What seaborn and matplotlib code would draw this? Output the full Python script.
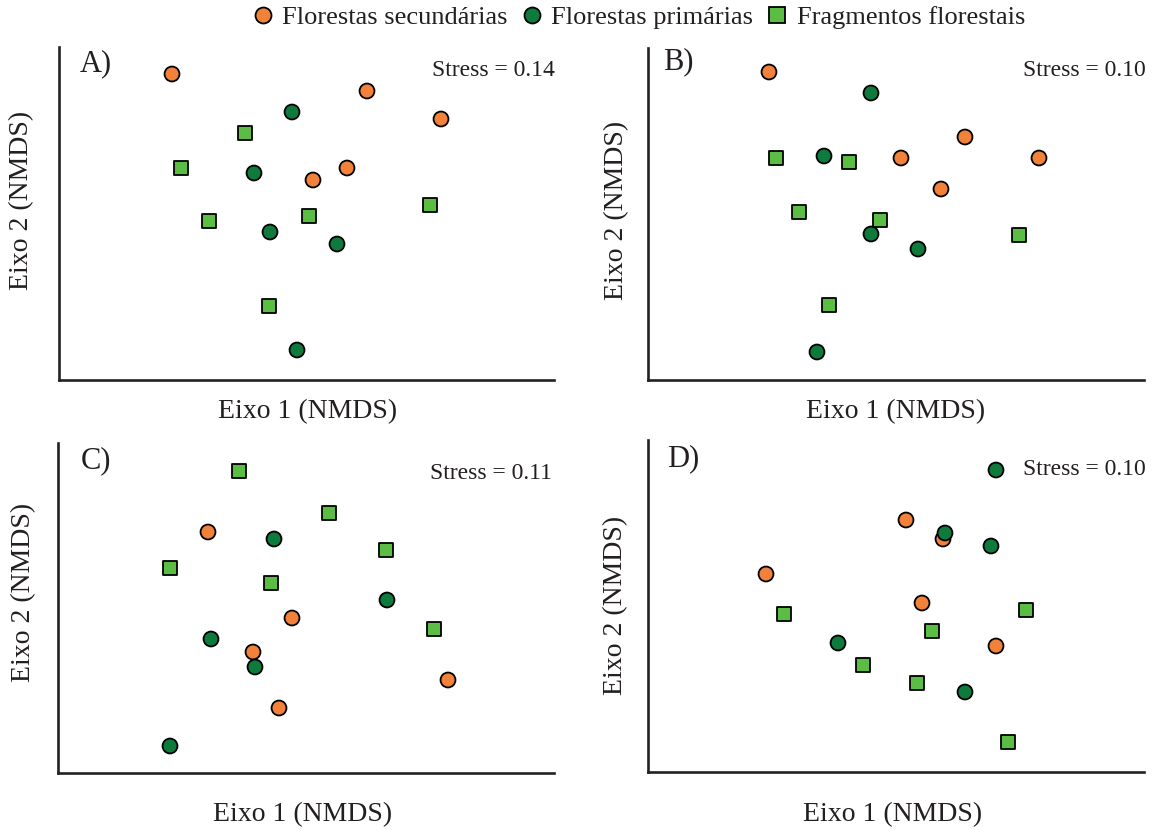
"""
Figura NMDS em quatro painéis (A-D): florestas secundárias, primárias e fragmentos.
"""

import matplotlib.pyplot as plt
from matplotlib.lines import Line2D
import pandas as pd
import seaborn as sns

# ==========================================
# DADOS (escores NMDS, unidades arbitrárias)
# ==========================================
GROUPS = ["Florestas secundárias", "Florestas primárias", "Fragmentos florestais"]
PANELS = ["A)", "B)", "C)", "D)"]
STRESS = [0.14, 0.10, 0.11, 0.10]

# painel A
a_sec_x = [113, 308, 382, 254, 288]
a_sec_y = [306, 289, 261, 200, 212]
a_pri_x = [233, 195, 211, 278, 238]
a_pri_y = [268, 207, 148, 136, 30]
a_fra_x = [186, 122, 150, 250, 210, 371]
a_fra_y = [247, 212, 159, 164, 74, 175]

# painel B
b_sec_x = [121, 317, 253, 391, 293]
b_sec_y = [308, 243, 222, 222, 191]
b_pri_x = [223, 176, 223, 270, 169]
b_pri_y = [287, 224, 146, 131, 28]
b_fra_x = [128, 201, 151, 232, 371, 181]
b_fra_y = [222, 218, 168, 160, 145, 75]

# painel C
c_sec_x = [150, 234, 195, 390, 221]
c_sec_y = [241, 155, 121, 93, 65]
c_pri_x = [216, 329, 153, 197, 112]
c_pri_y = [234, 173, 134, 106, 27]
c_fra_x = [181, 271, 328, 112, 213, 376]
c_fra_y = [302, 260, 223, 205, 190, 144]

# painel D
d_sec_x = [258, 295, 118, 274, 348]
d_sec_y = [252, 233, 198, 169, 126]
d_pri_x = [297, 343, 190, 317, 348]
d_pri_y = [239, 226, 129, 80, 302]
d_fra_x = [136, 284, 378, 215, 269, 360]
d_fra_y = [158, 141, 162, 107, 89, 30]

PANEL_DATA = [
    [(a_sec_x, a_sec_y), (a_pri_x, a_pri_y), (a_fra_x, a_fra_y)],
    [(b_sec_x, b_sec_y), (b_pri_x, b_pri_y), (b_fra_x, b_fra_y)],
    [(c_sec_x, c_sec_y), (c_pri_x, c_pri_y), (c_fra_x, c_fra_y)],
    [(d_sec_x, d_sec_y), (d_pri_x, d_pri_y), (d_fra_x, d_fra_y)],
]

# ==========================================
# ESTILO
# ==========================================
W, H = 1154, 830
PALETTE = {GROUPS[0]: "#F2823A", GROUPS[1]: "#0E7A3C", GROUPS[2]: "#5CBD45"}
MARKERS = {GROUPS[0]: "o", GROUPS[1]: "o", GROUPS[2]: "s"}
TEXT_COLOR = "#231F20"

# caixas dos eixos em pixels: esquerda, direita, topo, base
BOXES = [(59, 554, 47, 380), (648, 1144, 48, 380),
         (58, 554, 443, 773), (648, 1144, 440, 772)]
LETTER_POS = [(80, 64), (663, 62), (81, 461), (667, 459)]
STRESS_POS = [(555, 71), (1146, 70), (552, 473), (1146, 469)]
XLAB_POS = [(308, 412), (896, 412), (303, 815), (893, 815)]
YLAB_POS = [(22, 200), (617, 210), (24, 592), (616, 605)]


def fx(x):
    return x / W


def fy(y):
    return 1 - y / H


def main():
    sns.set_style("white")
    plt.rcParams["font.family"] = ["Liberation Serif", "DejaVu Serif"]

    fig = plt.figure(figsize=(W / 100, H / 100), dpi=100)

    for i, (left, right, top, bottom) in enumerate(BOXES):
        ax = fig.add_axes([fx(left), fy(bottom), (right - left) / W, (bottom - top) / H])

        rows = []
        for grp, (xs, ys) in zip(GROUPS, PANEL_DATA[i]):
            for x, y in zip(xs, ys):
                rows.append({"Eixo1": x, "Eixo2": y, "Grupo": grp})
        df = pd.DataFrame(rows)

        sns.scatterplot(
            data=df, x="Eixo1", y="Eixo2",
            hue="Grupo", style="Grupo",
            palette=PALETTE, markers=MARKERS,
            s=115, edgecolor="black", linewidth=1.3,
            legend=False, ax=ax, zorder=3, clip_on=False,
        )

        ax.set_xlim(0, right - left)
        ax.set_ylim(0, bottom - top)
        ax.set_xticks([])
        ax.set_yticks([])
        ax.set_xlabel("")
        ax.set_ylabel("")
        ax.set_facecolor("none")
        ax.spines["top"].set_visible(False)
        ax.spines["right"].set_visible(False)
        for side in ("left", "bottom"):
            ax.spines[side].set_color("#222222")
            ax.spines[side].set_linewidth(1.9)

        lx, ly = LETTER_POS[i]
        fig.text(fx(lx), fy(ly), PANELS[i], ha="left", va="center",
                 fontsize=22, color=TEXT_COLOR)
        sx, sy = STRESS_POS[i]
        fig.text(fx(sx), fy(sy), f"Stress = {STRESS[i]:.2f}", ha="right",
                 va="center", fontsize=17, color=TEXT_COLOR)
        xx, xy = XLAB_POS[i]
        fig.text(fx(xx), fy(xy), "Eixo 1 (NMDS)", ha="center", va="center",
                 fontsize=20, color=TEXT_COLOR)
        yx, yy = YLAB_POS[i]
        fig.text(fx(yx), fy(yy), "Eixo 2 (NMDS)", ha="center", va="center",
                 rotation=90, fontsize=20, color=TEXT_COLOR)

    # legenda comum no topo
    handles = [
        Line2D([], [], linestyle="none", marker=MARKERS[g], markersize=11.5,
               markerfacecolor=PALETTE[g], markeredgecolor="black",
               markeredgewidth=1.3, label=g)
        for g in GROUPS
    ]
    fig.legend(
        handles=handles, loc="upper center", bbox_to_anchor=(fx(638), 1.012),
        ncol=3, frameon=False, fontsize=19, handlelength=0.9,
        handletextpad=0.3, columnspacing=0.45, borderaxespad=0.2,
        labelcolor=TEXT_COLOR,
    )

    fig.savefig("out.png", dpi=100)
    plt.close(fig)


if __name__ == "__main__":
    main()
